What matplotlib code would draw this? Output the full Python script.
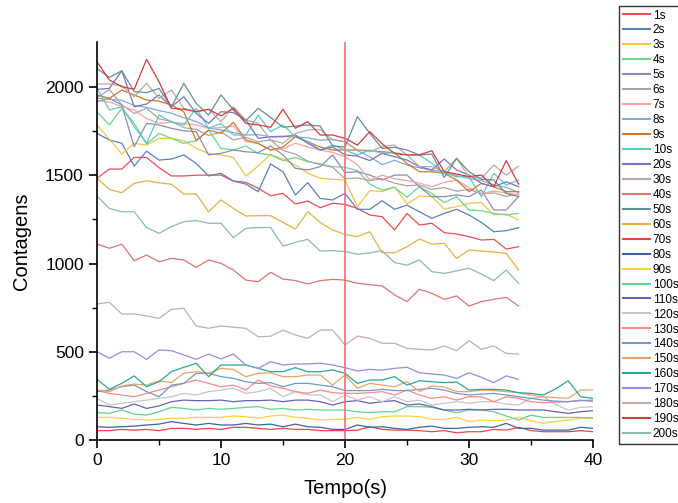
import numpy as np
import matplotlib
matplotlib.use("Agg")
import matplotlib.pyplot as plt

# series ending at t = 34 s
s1 = [1483, 1535, 1535, 1601, 1601, 1543, 1496, 1496, 1500, 1501, 1501, 1467, 1460, 1426, 1384, 1397, 1337, 1354,
      1316, 1341, 1335, 1312, 1275, 1265, 1190, 1284, 1218, 1228, 1175, 1167, 1152, 1133, 1137, 1082, 1095]
s2 = [1737, 1700, 1681, 1552, 1637, 1586, 1592, 1615, 1567, 1496, 1511, 1467, 1450, 1407, 1564, 1520, 1388, 1458,
      1369, 1360, 1397, 1307, 1307, 1356, 1307, 1331, 1293, 1256, 1284, 1307, 1275, 1233, 1180, 1186, 1203]
s3 = [1785, 1704, 1620, 1681, 1671, 1709, 1709, 1696, 1652, 1624, 1615, 1601, 1496, 1552, 1618, 1592, 1558, 1511,
      1483, 1477, 1473, 1322, 1413, 1407, 1435, 1337, 1382, 1379, 1309, 1322, 1341, 1345, 1275, 1280, 1246]
s4 = [1860, 1785, 1879, 1794, 1677, 1737, 1709, 1681, 1696, 1756, 1652, 1643, 1666, 1624, 1615, 1583, 1601, 1577,
      1564, 1549, 1545, 1526, 1450, 1416, 1431, 1375, 1435, 1397, 1345, 1379, 1303, 1299, 1284, 1275, 1284]
s5 = [1917, 1936, 1898, 1662, 1794, 1785, 1766, 1752, 1747, 1615, 1624, 1643, 1633, 1628, 1666, 1615, 1539, 1530,
      1549, 1615, 1515, 1520, 1501, 1473, 1501, 1501, 1435, 1379, 1379, 1388, 1379, 1416, 1303, 1303, 1379]
s6 = [1940, 1985, 1900, 1850, 1880, 1820, 1805, 1770, 1760, 1725, 1745, 1700, 1715, 1690, 1700, 1640, 1620, 1580,
      1560, 1545, 1480, 1485, 1470, 1480, 1455, 1440, 1445, 1420, 1430, 1410, 1420, 1395, 1400, 1380, 1395]
s7 = [1923, 1915, 1888, 1870, 1822, 1794, 1800, 1794, 1785, 1766, 1770, 1780, 1690, 1681, 1643, 1650, 1681, 1660,
      1643, 1630, 1605, 1560, 1473, 1500, 1480, 1470, 1455, 1435, 1460, 1473, 1430, 1397, 1410, 1400, 1388]
s8 = [1936, 1930, 1925, 1895, 1885, 1866, 1852, 1826, 1805, 1768, 1756, 1742, 1728, 1730, 1718, 1722, 1716, 1712,
      1698, 1704, 1690, 1640, 1605, 1560, 1585, 1558, 1542, 1528, 1522, 1498, 1482, 1470, 1445, 1432, 1402]
s9 = [1955, 1936, 1983, 1955, 1926, 1920, 1898, 1860, 1696, 1756, 1737, 1800, 1700, 1680, 1643, 1660, 1718, 1690,
      1660, 1643, 1643, 1643, 1640, 1633, 1628, 1567, 1520, 1520, 1511, 1473, 1407, 1454, 1435, 1407, 1407]
s10 = [1992, 1870, 1888, 1775, 1681, 1841, 1803, 1785, 1879, 1766, 1794, 1728, 1728, 1841, 1747, 1785, 1718, 1690,
       1643, 1671, 1643, 1615, 1643, 1624, 1628, 1615, 1615, 1568, 1511, 1492, 1492, 1379, 1511, 1445, 1473]
s20 = [1987, 1992, 2092, 1888, 1904, 1955, 1888, 1945, 1851, 1794, 1860, 1855, 1813, 1709, 1718, 1718, 1728, 1681,
       1643, 1660, 1615, 1609, 1583, 1624, 1605, 1586, 1549, 1530, 1592, 1530, 1501, 1454, 1435, 1463, 1435]
s30 = [2017, 2017, 2006, 1945, 2021, 1936, 1983, 1879, 1860, 1874, 1804, 1888, 1813, 1794, 1700, 1681, 1737, 1756,
       1760, 1700, 1690, 1643, 1633, 1662, 1671, 1615, 1549, 1549, 1520, 1596, 1492, 1483, 1558, 1501, 1552]
s40 = [1110, 1086, 1110, 1016, 1048, 1010, 1029, 1020, 978, 1020, 1001, 963, 906, 897, 950, 912, 903, 884,
       903, 910, 906, 888, 880, 873, 822, 784, 854, 831, 797, 816, 759, 784, 797, 808, 759]
s50 = [2105, 2054, 2092, 1974, 1968, 1992, 1888, 2021, 1907, 1841, 1955, 1870, 1809, 1879, 1828, 1772, 1779, 1785,
       1779, 1666, 1660, 1832, 1737, 1652, 1658, 1643, 1615, 1620, 1488, 1596, 1520, 1477, 1473, 1397, 1379]
s60 = [1483, 1420, 1401, 1454, 1469, 1457, 1449, 1394, 1394, 1293, 1360, 1312, 1269, 1271, 1271, 1233, 1195, 1293,
       1233, 1190, 1165, 1152, 1180, 1061, 1061, 1095, 1139, 1110, 1114, 1029, 1076, 1071, 1065, 1057, 963]
s170 = [500, 463, 500, 500, 457, 510, 506, 482, 457, 487, 459, 487, 425, 406, 444, 425, 431, 431,
        435, 425, 410, 391, 400, 396, 406, 412, 381, 374, 368, 349, 381, 355, 325, 363, 344]
s180 = [771, 780, 714, 714, 703, 689, 740, 746, 646, 633, 646, 639, 633, 585, 588, 623, 595, 576,
        623, 623, 538, 589, 576, 548, 548, 519, 514, 510, 533, 506, 563, 514, 533, 491, 487]
s190 = [2143, 2040, 2002, 1987, 2157, 2030, 1879, 1874, 1860, 1874, 1836, 1879, 1794, 1785, 1772, 1874, 1766, 1804,
        1728, 1728, 1709, 1671, 1747, 1677, 1624, 1615, 1615, 1639, 1520, 1507, 1492, 1501, 1435, 1583, 1450]
s200 = [1382, 1312, 1293, 1293, 1204, 1171, 1209, 1237, 1243, 1228, 1228, 1146, 1199, 1204, 1204, 1099, 1120, 1137,
        1071, 1073, 1068, 1052, 1060, 1073, 1005, 991, 1020, 954, 944, 958, 973, 940, 903, 963, 888]

# series ending at t = 40 s
s70 = [53, 53, 60, 56, 60, 53, 66, 66, 60, 66, 60, 72, 72, 66, 60, 66, 60, 60, 53, 53, 53,
       56, 75, 60, 56, 56, 53, 47, 53, 41, 47, 47, 60, 56, 72, 53, 47, 47, 47, 53, 47]
s80 = [75, 72, 75, 79, 85, 90, 104, 94, 85, 94, 85, 85, 94, 85, 90, 75, 90, 75, 72, 60, 60,
       85, 72, 75, 66, 60, 72, 79, 66, 66, 72, 75, 72, 94, 66, 66, 56, 56, 56, 72, 66]
s90 = [128, 128, 123, 117, 113, 117, 123, 123, 128, 128, 128, 136, 132, 123, 136, 141, 128, 123, 113, 117, 117,
       128, 117, 132, 136, 136, 132, 117, 117, 128, 104, 113, 109, 113, 128, 109, 94, 105, 113, 123, 128]
s100 = [155, 151, 170, 147, 141, 160, 185, 179, 170, 179, 174, 179, 185, 189, 174, 179, 170, 174, 170, 170, 170,
        160, 155, 160, 160, 189, 189, 185, 170, 155, 170, 170, 160, 136, 113, 141, 128, 128, 128, 128, 123]
s110 = [198, 189, 179, 204, 179, 193, 217, 226, 223, 223, 226, 217, 223, 223, 226, 217, 226, 226, 217, 198, 217,
        223, 208, 217, 223, 198, 204, 189, 170, 170, 174, 170, 174, 174, 170, 170, 170, 160, 151, 160, 166]
s120 = [236, 198, 208, 217, 226, 236, 245, 264, 255, 274, 283, 293, 264, 274, 293, 245, 274, 255, 255, 217, 255,
        226, 245, 217, 245, 217, 226, 198, 208, 217, 208, 217, 217, 204, 198, 236, 245, 200, 170, 185, 189]
s130 = [280, 264, 255, 245, 264, 283, 302, 321, 340, 321, 302, 311, 283, 340, 306, 293, 274, 264, 283, 268, 264,
        264, 268, 274, 255, 283, 255, 236, 245, 226, 245, 245, 217, 245, 236, 217, 211, 215, 217, 226, 217]
s140 = [274, 283, 302, 311, 274, 245, 311, 321, 378, 378, 359, 349, 330, 321, 325, 302, 321, 321, 311, 302, 280,
        280, 280, 287, 280, 280, 287, 293, 283, 264, 255, 260, 264, 255, 245, 236, 226, 220, 217, 223, 226]
s150 = [283, 274, 306, 317, 311, 336, 325, 378, 387, 378, 406, 400, 359, 378, 381, 359, 359, 368, 368, 311, 368,
        293, 321, 311, 302, 330, 274, 306, 300, 274, 274, 283, 280, 274, 268, 255, 245, 240, 236, 283, 283]
s160 = [344, 287, 321, 363, 302, 330, 387, 412, 434, 359, 425, 425, 425, 406, 387, 387, 410, 387, 387, 397, 378,
        321, 340, 340, 359, 311, 336, 330, 325, 328, 283, 287, 287, 283, 268, 264, 255, 290, 336, 245, 236]

labels = ["1s", "2s", "3s", "4s", "5s", "6s", "7s", "8s", "9s", "10s", "20s", "30s", "40s", "50s", "60s",
          "70s", "80s", "90s", "100s", "110s", "120s", "130s", "140s", "150s", "160s", "170s", "180s",
          "190s", "200s"]
series = [s1, s2, s3, s4, s5, s6, s7, s8, s9, s10, s20, s30, s40, s50, s60,
          s70, s80, s90, s100, s110, s120, s130, s140, s150, s160, s170, s180, s190, s200]
colors = ["#F04C56", "#5B82B8", "#F5C440", "#6CD590", "#8E8AB2", "#A6A6A6", "#FFA0A0", "#80AAE0",
          "#D2782A", "#58CBC2", "#7B72C8", "#B8AAA2", "#E07474", "#5F9292", "#E6B040",
          "#F04444", "#3C64A2", "#FFD040", "#5ED88E", "#6464B2", "#C6C6C6", "#FF8888", "#7498C8",
          "#E8A466", "#2AA898", "#9290E0", "#C0B0A8", "#D83A3A", "#8ABAB2"]

marker_time = 20

plt.rcParams['font.family'] = ['Liberation Sans', 'DejaVu Sans']

fig = plt.figure(figsize=(6.78, 5.03), dpi=100)
ax = fig.add_axes([97 / 678, 63 / 503, 496 / 678, 398 / 503])

for vals, lab, col in zip(series, labels, colors):
    t = np.arange(len(vals))
    ax.plot(t, vals, color=col, lw=0.9, label=lab)

ax.axvline(marker_time, color="#F07070", lw=1.2)

ax.set_xlim(0, 40)
ax.set_ylim(0, 2255)
ax.set_xticks([0, 10, 20, 30, 40])
ax.set_xticks([5, 15, 25, 35], minor=True)
ax.set_yticks([0, 500, 1000, 1500, 2000])
ax.set_yticks([250, 750, 1250, 1750], minor=True)
ax.tick_params(which='major', direction='out', length=6, width=1.2, labelsize=12.5)
ax.tick_params(which='minor', direction='out', length=3.5, width=1.0)
ax.spines['top'].set_visible(False)
ax.spines['right'].set_visible(False)
ax.spines['left'].set_linewidth(1.2)
ax.spines['bottom'].set_linewidth(1.2)

ax.set_xlabel("Tempo(s)", fontsize=14.5, labelpad=8)
ax.set_ylabel("Contagens", fontsize=14.5, labelpad=10)

leg = fig.legend(loc='upper left', bbox_to_anchor=(619 / 678, 1 - 6 / 503), fontsize=8.5,
                 frameon=True, fancybox=False, edgecolor='black', handlelength=2.3,
                 handletextpad=0.25, labelspacing=0.25, borderpad=0.3, borderaxespad=0)
leg.get_frame().set_linewidth(1.0)
for line in leg.get_lines():
    line.set_linewidth(1.5)

fig.savefig("out.png", dpi=100)
